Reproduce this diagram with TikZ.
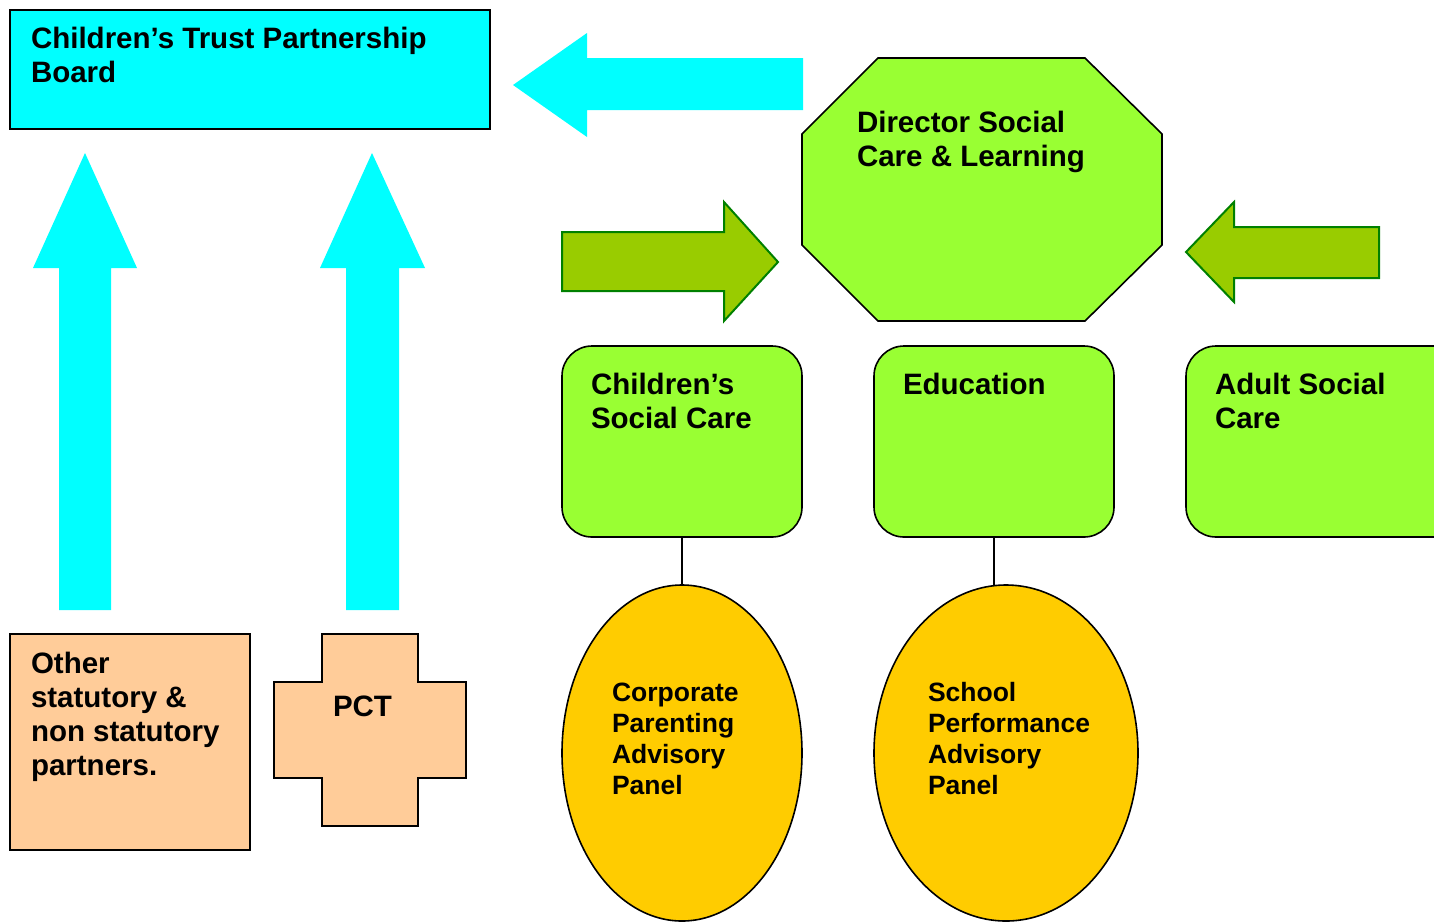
\documentclass[tikz,border=0pt]{standalone}
\usepackage{fontspec}
\setmainfont{Liberation Sans}
\usetikzlibrary{shapes.geometric}
\definecolor{cy}{HTML}{00FFFF}
\definecolor{lg}{HTML}{99FF33}
\definecolor{ag}{HTML}{99CC00}
\definecolor{dg}{HTML}{008000}
\definecolor{yo}{HTML}{FFCC00}
\definecolor{pe}{HTML}{FFCC99}
\tikzset{
  box/.style={draw=black, line width=1.6pt, inner sep=0pt, outer sep=0pt},
  rbox/.style={box, fill=lg, rounded corners=30pt, minimum width=240pt, minimum height=191pt},
  oval/.style={box, ellipse, fill=yo, minimum height=336pt},
  txt/.style={anchor=north west, inner sep=0pt, outer sep=0pt, align=left, font=\bfseries\fontsize{29.5}{34}\selectfont},
  stxt/.style={txt, font=\bfseries\fontsize{26.5}{31}\selectfont},
  cyarrow/.style={fill=cy},
  garrow/.style={fill=ag, draw=dg, line width=2pt, line join=miter},
  link/.style={draw=black, line width=1.6pt}
}
\begin{document}
\begin{tikzpicture}[x=1pt,y=-1pt]
\useasboundingbox (0,0) rectangle (1434,922);
\clip (0,0) rectangle (1434,922);
% cyan arrows
\fill[cyarrow] (513,85) -- (587,33) -- (587,58) -- (803,58) -- (803,110) -- (587,110) -- (587,137) -- cycle;
\fill[cyarrow] (85,153) -- (137,268) -- (111,268) -- (111,610) -- (59,610) -- (59,268) -- (33,268) -- cycle;
\fill[cyarrow] (372,153) -- (425,268) -- (399,268) -- (399,610) -- (346,610) -- (346,268) -- (320,268) -- cycle;
% green arrows
\filldraw[garrow] (778,262) -- (724,202) -- (724,232) -- (562,232) -- (562,291) -- (724,291) -- (724,321) -- cycle;
\filldraw[garrow] (1186,252) -- (1234,202) -- (1234,227) -- (1379,227) -- (1379,278) -- (1234,278) -- (1234,302) -- cycle;
% board
\node[box, fill=cy, minimum width=480pt, minimum height=119pt] (board) at (250,69.5) {};
\node[txt] (boardt) at (31,27.5) {Children’s Trust Partnership\\Board};
% director octagon
\filldraw[box, fill=lg, line join=miter] (878,58) -- (1085,58) -- (1162,134) -- (1162,245) -- (1085,321) -- (878,321) -- (802,245) -- (802,134) -- cycle;
\node[txt] (dirt) at (857,111.5) {Director Social\\Care \& Learning};
% departments
\node[rbox] (csc) at (682,441.5) {};
\node[txt] (csct) at (591,373.5) {Children’s\\Social Care};
\node[rbox] (edu) at (994,441.5) {};
\node[txt] (edut) at (903,373.5) {Education};
\node[rbox, minimum width=280pt] (asc) at (1326,441.5) {};
\node[txt] (asct) at (1215,373.5) {Adult Social\\Care};
% panels
\node[oval, minimum width=240pt] (cpap) at (682,753) {};
\node[stxt] (cpapt) at (612,682.5) {Corporate\\Parenting\\Advisory\\Panel};
\node[oval, minimum width=264pt] (spap) at (1006,753) {};
\node[stxt] (spapt) at (928,682.5) {School\\Performance\\Advisory\\Panel};
\draw[link] (csc.south) -- (cpap.north);
\draw[link] (edu.south) -- (edu.south |- spap.north);
% partners
\node[box, fill=pe, minimum width=240pt, minimum height=216pt] (other) at (130,742) {};
\node[txt] (othert) at (31,652.5) {Other\\statutory \&\\non statutory\\partners.};
\filldraw[box, fill=pe, line join=miter] (322,634) -- (418,634) -- (418,682) -- (466,682) -- (466,778) -- (418,778) -- (418,826) -- (322,826) -- (322,778) -- (274,778) -- (274,682) -- (322,682) -- cycle;
\node[txt] (pctt) at (333,695.5) {PCT};
\end{tikzpicture}
\end{document}
